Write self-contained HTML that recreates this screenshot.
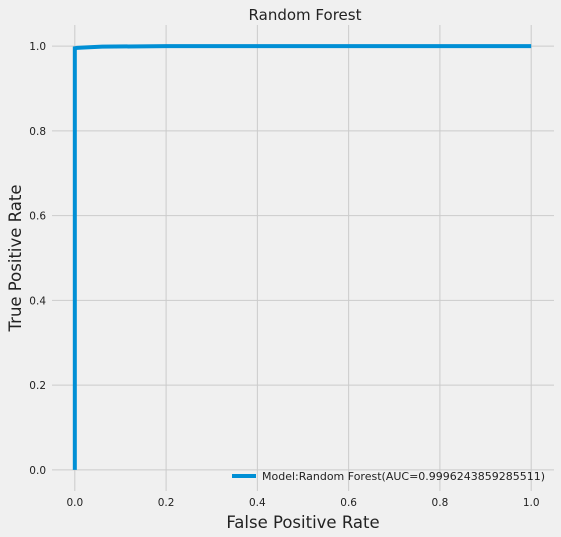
<!DOCTYPE html>
<html><head><meta charset="utf-8"><style>
body{margin:0;background:#f0f0f0;}
svg{display:block;font-family:"DejaVu Sans","Liberation Sans",sans-serif;}
</style></head><body>
<svg id="c" width="561" height="537">
<rect width="561" height="537" fill="#f0f0f0"/>
<text x="305" y="20" font-size="15" text-anchor="middle" fill="#222">Random Forest</text>
<g id="grid"></g>
<g id="ticks"></g>
<g id="series"></g>
<text x="303" y="528" font-size="16.5" text-anchor="middle" fill="#222">False Positive Rate</text>
<text transform="translate(21,258) rotate(-90)" font-size="16.5" text-anchor="middle" fill="#222">True Positive Rate</text>
<g>
<line x1="232" y1="476" x2="256" y2="476" stroke="#008fd5" stroke-width="4"/>
<text x="262" y="480" font-size="11" fill="#222">Model:Random Forest(AUC=0.9996243859285511)</text>
</g>
</svg>
<script>
const fpr=[0,0,0.005,0.02,0.06,0.2,1];
const tpr=[0,0.995,0.996,0.997,0.999,1,1];
const xTicks=[0,0.2,0.4,0.6,0.8,1.0];
const yTicks=[0,0.2,0.4,0.6,0.8,1.0];
const x0=52,x1=554,y0=491,y1=25;
const sx=v=>x0+(v+0.05)/1.1*(x1-x0);
const sy=v=>y0-(v+0.05)/1.1*(y0-y1);
const NS="http://www.w3.org/2000/svg";
const g=document.getElementById('grid'),t=document.getElementById('ticks'),s=document.getElementById('series');
function mk(tag,a,p){const e=document.createElementNS(NS,tag);for(const k in a)e.setAttribute(k,a[k]);p.appendChild(e);return e;}
xTicks.forEach(v=>{
 const l=mk('line',{x1:sx(v),x2:sx(v),y1:y1,y2:y0,stroke:'#cbcbcb','stroke-width':1},g);
 
 
 const tx=mk('text',{x:sx(v),y:y0+15,'font-size':10.5,'text-anchor':'middle',fill:'#222'},t);
 tx.textContent=v.toFixed(1);
 
 
});
yTicks.forEach(v=>{
 const l=mk('line',{x1:x0,x2:x1,y1:sy(v),y2:sy(v),stroke:'#cbcbcb','stroke-width':1},g);
 
 
 const tx=mk('text',{x:x0-6,y:sy(v)+4,'font-size':10.5,'text-anchor':'end',fill:'#222'},t);
 tx.textContent=v.toFixed(1);
 
 
});
const p=mk('polyline',{points:fpr.map((f,i)=>sx(f)+','+sy(tpr[i])).join(' '),fill:'none',stroke:'#008fd5','stroke-width':4},s);


</script>
</body></html>
